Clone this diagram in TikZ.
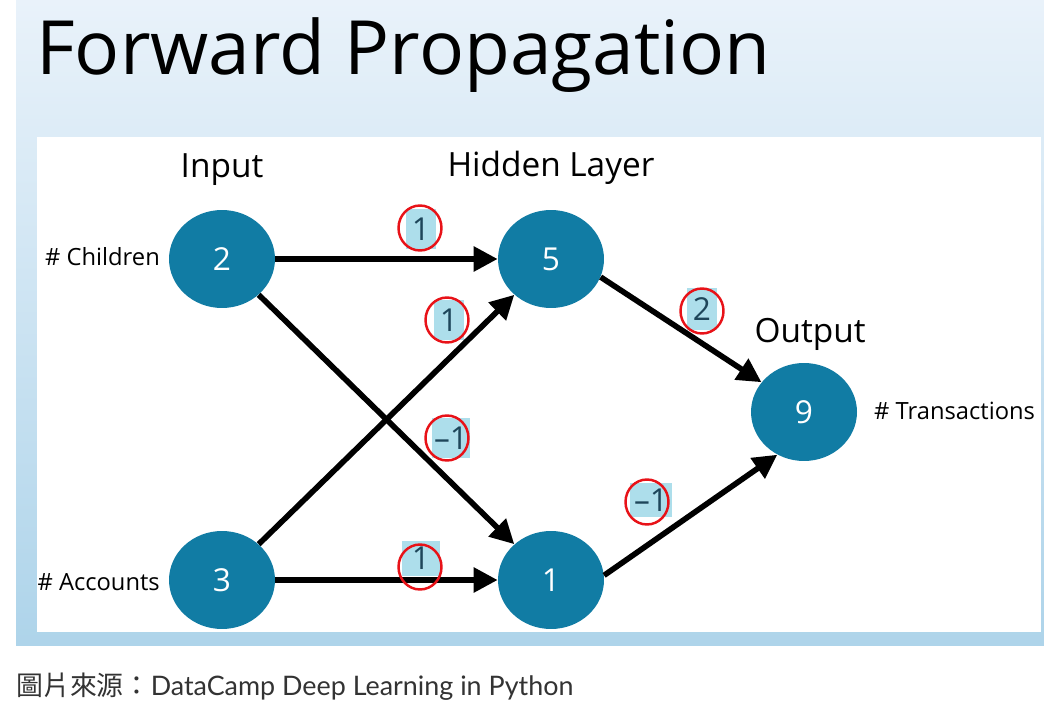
\documentclass[tikz,border=0pt]{standalone}
\usepackage{fontspec}
\setmainfont{Open Sans}
\newfontfamily\capfont{Lato}
\newfontfamily\cjkfont{Noto Sans CJK TC}
\usetikzlibrary{arrows.meta,shapes.geometric}
\definecolor{unitblue}{RGB}{17,124,164}
\definecolor{wboxblue}{RGB}{173,222,235}
\definecolor{wtext}{RGB}{30,70,90}
\definecolor{ringred}{RGB}{232,18,24}
\definecolor{slidetop}{RGB}{233,242,250}
\definecolor{slidebot}{RGB}{174,212,234}
\begin{document}
\begin{tikzpicture}[x=0.02cm,y=-0.02cm,
    unit/.style={ellipse,fill=unitblue,text=white,inner sep=0pt,
        minimum width=2.12cm,minimum height=1.96cm,font=\fontsize{18}{20}\selectfont},
    conn/.style={line width=3.2pt,-{Triangle[length=0.48cm,width=0.48cm]}},
    wbox/.style={fill=wboxblue,text=wtext,inner sep=0pt,font=\fontsize{18}{20}\selectfont},
    ring/.style={ellipse,draw=ringred,line width=1.4pt,inner sep=0pt,
        minimum width=0.86cm,minimum height=0.9cm},
    layername/.style={font=\fontsize{19}{22}\selectfont},
    feature/.style={font=\fontsize{13.5}{16}\selectfont}]
    \useasboundingbox (0,0) rectangle (1044,709);

    % slide
    \shade[top color=slidetop,bottom color=slidebot] (16,0) rectangle (1044,645);
    \fill[white] (37,137) rectangle (1041,632);
    \node[anchor=base west,inner sep=0pt,font=\fontsize{42.6}{48}\selectfont] (title) at (36,75) {Forward Propagation};

    % units
    \node[unit] (in1) at (222,259) {2};
    \node[unit] (in2) at (222,580) {3};
    \node[unit] (h1) at (551,259) {5};
    \node[unit] (h2) at (551,580) {1};
    \node[unit] (out) at (804,412) {9};

    \node[layername] (inname) at (222,170) {Input};
    \node[layername] (hname) at (551,168) {Hidden Layer};
    \node[layername] (oname) at (810,334) {Output};
    \node[feature,anchor=east] (f1) at (166,257) {\# Children};
    \node[feature,anchor=east] (f2) at (166,582) {\# Accounts};
    \node[feature,anchor=west] (f3) at (868,411) {\# Transactions};

    \draw[conn] (in1)--(h1);
    \draw[conn] (in1)--(h2);
    \draw[conn] (in2)--(h1);
    \draw[conn] (in2)--(h2);
    \draw[conn] (h1.-20)--(out.145);
    \draw[conn] (h2.5)--(out.-122);

    % weights
    \foreach \n/\bx/\by/\bw/\bh/\rx/\ry/\t in {a/421/229/30/40/420/228/1,
        b/449/320/30/40/447/320/1, c/451/438/38/40/447/438/{\textendash1},
        d/702/309/30/42/702/311/2, e/651/500/42/34/647/502/{\textendash1},
        f/421/558/38/35/420/567/1}{
      \node[wbox,minimum width=\bw*0.02cm,minimum height=\bh*0.02cm] (w\n) at (\bx,\by) {\t};
      \node[ring] (r\n) at (\rx,\ry) {};
    }

    \node[anchor=base west,inner sep=0pt,text=black!80,font=\fontsize{15.3}{18}\selectfont] (src) at (16,695)
        {\cjkfont 圖片來源：\capfont DataCamp Deep Learning in Python};
\end{tikzpicture}
\end{document}
